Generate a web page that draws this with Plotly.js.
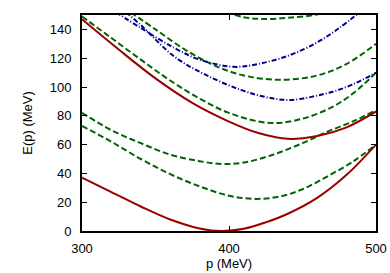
<!DOCTYPE html>
<html>
<head>
<meta charset="utf-8">
<script src="https://cdn.plot.ly/plotly-3.0.1.min.js"></script>
<style>
  html, body { margin: 0; padding: 0; background: #fff; }
  #chart { width: 390px; height: 273px; }
</style>
</head>
<body>
<div id="chart"></div>
<script>
// solid red branches
const pRedLow = [300, 320, 340, 360, 380, 395, 410, 425, 440, 460, 480, 500];
const eRedLow = [37, 27, 17, 8, 1.8, 0, 1.5, 6, 12, 23, 39, 60];
const pRedUp = [300, 325, 350, 375, 400, 420, 440, 460, 480, 500];
const eRedUp = [147, 126, 106, 89, 76, 68, 64, 66, 72, 83];

// dashed green branches
const pGrA = [300, 320, 340, 360, 380, 400, 418, 435, 450, 467, 484, 500];
const eGrA = [73, 62, 50, 39.5, 31, 24.5, 22.3, 24, 29, 38, 48, 60];
const pGrB = [300, 320, 340, 360, 380, 395, 410, 430, 450, 467, 484, 500];
const eGrB = [82, 70, 61, 53, 48.5, 46.5, 47.5, 53, 61, 69, 76, 84];
const pGrC = [300, 320, 340, 360, 380, 400, 428, 450, 470, 485, 500];
const eGrC = [149, 134, 119, 104.5, 92, 82, 75, 78, 86, 96, 110];
const pGrD = [333, 350, 370, 390, 410, 435, 460, 480, 500];
const eGrD = [152, 140, 126, 115, 108, 105, 108, 116, 130];
const pGrE = [398, 410, 423, 440, 458, 466];
const eGrE = [152, 148.5, 147.2, 148, 150, 152];

// dash-dot blue branches
const pBlA = [323, 340, 363, 380, 403, 420, 441, 460, 475, 489];
const eBlA = [152, 141, 127, 119, 114, 116, 122, 131, 141, 152];
const pBlB = [330, 340, 363, 385, 408, 425, 441, 460, 480, 500];
const eBlB = [152, 143, 121, 108, 98, 93, 91, 94, 100, 110];

const red = '#990000', green = '#006400', blue = '#00008b';

function curve(x, y, color, dash) {
    return {
        x: x, y: y, type: 'scatter', mode: 'lines',
        line: {color: color, width: 2, dash: dash, shape: 'spline', smoothing: 1},
        hoverinfo: 'skip', showlegend: false
    };
}

const traces = [
    curve(pGrA, eGrA, green, '6px,3px'),
    curve(pGrB, eGrB, green, '6px,3px'),
    curve(pGrC, eGrC, green, '6px,3px'),
    curve(pGrD, eGrD, green, '6px,3px'),
    curve(pGrE, eGrE, green, '6px,3px'),
    curve(pBlA, eBlA, blue, '5px,2px,1px,2px'),
    curve(pBlB, eBlB, blue, '5px,2px,1px,2px'),
    curve(pRedLow, eRedLow, red, 'solid'),
    curve(pRedUp, eRedUp, red, 'solid')
];

const axisCommon = {
    showline: true, mirror: 'ticks', linecolor: '#000', linewidth: 2,
    ticks: 'inside', ticklen: 5, tickcolor: '#000', tickwidth: 1,
    showgrid: false, zeroline: false,
    tickfont: {family: 'Liberation Sans, Arial, sans-serif', size: 13, color: '#000'}
};

const layout = {
    width: 390, height: 273,
    margin: {l: 82, r: 14, t: 15, b: 42},
    paper_bgcolor: '#fff', plot_bgcolor: '#fff',
    font: {family: 'Liberation Sans, Arial, sans-serif', size: 13, color: '#000'},
    xaxis: {...axisCommon, range: [300, 500], tickvals: [300, 400, 500],
        ticklabelstandoff: 4,
        title: {text: 'p (MeV)', standoff: 3, font: {size: 13}}},
    yaxis: {...axisCommon, range: [0, 150], tickvals: [0, 20, 40, 60, 80, 100, 120, 140],
        ticklabelstandoff: 6,
        title: {text: 'E(p) (MeV)', standoff: 14, font: {size: 13}}}
};

Plotly.newPlot('chart', traces, layout, {staticPlot: true});
</script>
</body>
</html>
